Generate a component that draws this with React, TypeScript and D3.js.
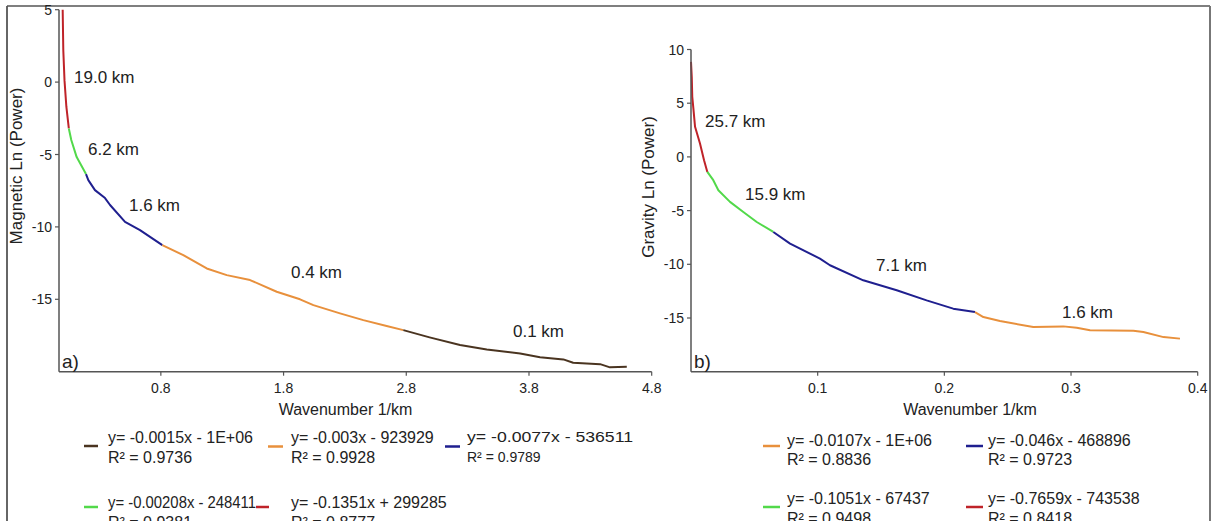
import React from "react";
import * as d3 from "d3";

// ---------- DATA ----------
// Magnetic spectrum (panel a): wavenumber (1/km), ln(power), per fitted segment
const magRedK = [0.0, 0.005, 0.015, 0.03, 0.05];
const magRedP = [5.0, 2.2, 0.1, -1.7, -3.2];
const magGreenK = [0.07, 0.114, 0.19];
const magGreenP = [-4.0, -5.18, -6.35];
const magBlueK = [0.209, 0.263, 0.345, 0.386, 0.508, 0.63, 0.812];
const magBlueP = [-6.77, -7.46, -8.01, -8.49, -9.65, -10.22, -11.26];
const magOrangeK = [0.983, 1.174, 1.337, 1.527, 1.744, 1.934, 2.043, 2.26, 2.45, 2.64, 2.776];
const magOrangeP = [-11.95, -12.87, -13.33, -13.67, -14.48, -15.0, -15.4, -15.97, -16.44, -16.85, -17.13];
const magBrownK = [2.99, 3.238, 3.456, 3.728, 3.89, 4.08, 4.16, 4.38, 4.46, 4.597];
const magBrownP = [-17.63, -18.16, -18.46, -18.74, -19.0, -19.15, -19.38, -19.48, -19.7, -19.66];

// Gravity spectrum (panel b)
const gravRedK = [0.0, 0.0006, 0.001, 0.002, 0.0032, 0.0071, 0.0103, 0.0129];
const gravRedP = [8.85, 7.46, 5.59, 4.35, 2.8, 1.25, -0.31, -1.4];
const gravGreenK = [0.0176, 0.0216, 0.0308, 0.0413, 0.0519, 0.065];
const gravGreenP = [-2.17, -3.1, -4.19, -5.13, -6.06, -6.99];
const gravBlueK = [0.0782, 0.1018, 0.1097, 0.136, 0.1624, 0.186, 0.207, 0.2242];
const gravBlueP = [-8.07, -9.47, -10.09, -11.49, -12.42, -13.36, -14.13, -14.45];
const gravOrangeK = [0.2308, 0.2439, 0.2702, 0.2939, 0.3045, 0.315, 0.3492, 0.3571, 0.373, 0.386];
const gravOrangeP = [-14.91, -15.28, -15.84, -15.78, -15.9, -16.15, -16.18, -16.31, -16.78, -16.92];

// Axis ticks
const magXTicks = [0.8, 1.8, 2.8, 3.8, 4.8];
const magYTicks = [5, 0, -5, -10, -15];
const gravXTicks = [0.1, 0.2, 0.3, 0.4];
const gravYTicks = [10, 5, 0, -5, -10, -15];

// Depth labels
const magDepthLabels = ["19.0 km", "6.2 km", "1.6 km", "0.4 km", "0.1 km"];
const gravDepthLabels = ["25.7 km", "15.9 km", "7.1 km", "1.6 km"];

// Legend entries
const magLegendEq = ["y= -0.0015x - 1E+06", "y= -0.003x - 923929", "y= -0.0077x - 536511", "y= -0.00208x - 248411", "y= -0.1351x + 299285"];
const magLegendR2 = ["R² = 0.9736", "R² = 0.9928", "R² = 0.9789", "R² = 0.9381", "R² = 0.8777"];
const gravLegendEq = ["y= -0.0107x - 1E+06", "y= -0.046x - 468896", "y= -0.1051x - 67437", "y= -0.7659x - 743538"];
const gravLegendR2 = ["R² = 0.8836", "R² = 0.9723", "R² = 0.9498", "R² = 0.8418"];

// ---------- STYLE ----------
const C = {
  red: "#bf2329",
  green: "#52d94a",
  blue: "#1f1f8f",
  orange: "#e8903c",
  brown: "#4a3420",
  axis: "#555",
  text: "#222",
};
const FONT = "'Liberation Sans', Arial, Helvetica, sans-serif";

type Seg = { k: number[]; p: number[]; color: string };

const magSegs: Seg[] = [
  { k: magRedK, p: magRedP, color: C.red },
  { k: magGreenK, p: magGreenP, color: C.green },
  { k: magBlueK, p: magBlueP, color: C.blue },
  { k: magOrangeK, p: magOrangeP, color: C.orange },
  { k: magBrownK, p: magBrownP, color: C.brown },
];
const gravSegs: Seg[] = [
  { k: gravRedK, p: gravRedP, color: C.red },
  { k: gravGreenK, p: gravGreenP, color: C.green },
  { k: gravBlueK, p: gravBlueP, color: C.blue },
  { k: gravOrangeK, p: gravOrangeP, color: C.orange },
];

function Panel(props: {
  segs: Seg[];
  x: d3.ScaleLinear<number, number>;
  y: d3.ScaleLinear<number, number>;
  xTicks: number[];
  yTicks: number[];
  xFmt: (v: number) => string;
  title: string;
  titleX: number;
  titleY: number;
  tag: string;
  labels: string[];
  labelPos: [number, number][];
}) {
  const { segs, x, y, xTicks, yTicks, xFmt } = props;
  const [x0, x1] = x.range();
  const [yb, yt] = y.range();
  const line = d3
    .line<[number, number]>()
    .x((d) => x(d[0]))
    .y((d) => y(d[1]))
    .curve(d3.curveLinear);
  const paths = segs.map((s, i) => {
    const pts: [number, number][] = s.k.map((k, j) => [k, s.p[j]]);
    if (i > 0) {
      const prev = segs[i - 1];
      pts.unshift([prev.k[prev.k.length - 1], prev.p[prev.p.length - 1]]);
    }
    return { d: line(pts) || "", color: s.color };
  });
  return (
    <g>
      {paths.map((p, i) => (
        <path key={i} d={p.d} fill="none" stroke={p.color} strokeWidth={2} strokeLinejoin="round" />
      ))}
      <line x1={x0} x2={x0} y1={yt} y2={yb} stroke={C.axis} strokeWidth={1.5} />
      <line x1={x0} x2={x1} y1={yb} y2={yb} stroke={C.axis} strokeWidth={1.5} />
      {yTicks.map((t) => (
        <g key={"y" + t}>
          <line x1={x0 - 4} x2={x0} y1={y(t)} y2={y(t)} stroke={C.axis} strokeWidth={1.2} />
          <text x={x0 - 7} y={y(t)} dy="0.36em" textAnchor="end" fontSize={14} fontFamily={FONT} fill={C.text}>
            {t}
          </text>
        </g>
      ))}
      {xTicks.map((t) => (
        <g key={"x" + t}>
          <line x1={x(t)} x2={x(t)} y1={yb} y2={yb + 4} stroke={C.axis} strokeWidth={1.2} />
          <text x={x(t)} y={393} textAnchor="middle" fontSize={14} fontFamily={FONT} fill={C.text}>
            {xFmt(t)}
          </text>
        </g>
      ))}
      <text
        transform={`translate(${props.titleX},${props.titleY}) rotate(-90)`}
        textAnchor="middle"
        dy="0.35em"
        fontSize={17}
        fontFamily={FONT}
        fill={C.text}
      >
        {props.title}
      </text>
      <text x={x0 + 3} y={368} fontSize={19} fontFamily={FONT} fill={C.text}>
        {props.tag}
      </text>
      {props.labels.map((l, i) => (
        <text key={l + i} x={props.labelPos[i][0]} y={props.labelPos[i][1]} fontSize={17} fontFamily={FONT} fill={C.text}>
          {l}
        </text>
      ))}
    </g>
  );
}

function LegendItem(props: {
  sx: number;
  sw: number;
  sy: number;
  tx: number;
  ty: number;
  color: string;
  eq: string;
  r2: string;
  eqLen?: number;
  small?: boolean;
}) {
  const fs = props.small ? 14 : 16;
  return (
    <g>
      <line x1={props.sx} x2={props.sx + props.sw} y1={props.sy} y2={props.sy} stroke={props.color} strokeWidth={2.5} />
      <text
        x={props.tx}
        y={props.ty}
        fontSize={fs}
        fontFamily={FONT}
        fill={C.text}
        {...(props.eqLen ? { textLength: props.eqLen, lengthAdjust: "spacingAndGlyphs" } : {})}
      >
        {props.eq}
      </text>
      <text x={props.tx} y={props.ty + 19.5} fontSize={fs} fontFamily={FONT} fill={C.text}>
        {props.r2}
      </text>
    </g>
  );
}

export default function App() {
  const W = 1214;
  const H = 521;
  const xM = d3.scaleLinear().domain([-0.03, 4.8]).range([59, 651.7]);
  const yM = d3.scaleLinear().domain([-20, 5]).range([371.7, 9.7]);
  const xG = d3.scaleLinear().domain([0, 0.4]).range([691, 1197.7]);
  const yG = d3.scaleLinear().domain([-20, 10]).range([371.7, 49.5]);

  const magLabelPos: [number, number][] = [
    [74, 83],
    [88, 155],
    [129, 211],
    [291, 278],
    [513, 337],
  ];
  const gravLabelPos: [number, number][] = [
    [705, 127],
    [745, 200],
    [876, 271],
    [1062, 318],
  ];

  return (
    <svg
      width={W}
      height={H}
      style={{ position: "absolute", left: 0, top: 0, background: "#fff" }}
      xmlns="http://www.w3.org/2000/svg"
    >
      <rect x={0} y={0} width={W} height={H} fill="#fff" />
      <line x1={7} x2={7} y1={6} y2={H} stroke="#333" strokeWidth={1.5} />
      <line x1={7} x2={1210} y1={6} y2={6} stroke="#555" strokeWidth={1.5} />
      <line x1={1210} x2={1210} y1={6} y2={H} stroke="#777" strokeWidth={2} />

      <Panel
        segs={magSegs}
        x={xM}
        y={yM}
        xTicks={magXTicks}
        yTicks={magYTicks}
        xFmt={(v) => v.toFixed(1)}
        title="Magnetic Ln (Power)"
        titleX={16}
        titleY={166}
        tag="a)"
        labels={magDepthLabels}
        labelPos={magLabelPos}
      />
      <Panel
        segs={gravSegs}
        x={xG}
        y={yG}
        xTicks={gravXTicks}
        yTicks={gravYTicks}
        xFmt={(v) => String(+v.toFixed(1))}
        title="Gravity Ln (Power)"
        titleX={648}
        titleY={187}
        tag="b)"
        labels={gravDepthLabels}
        labelPos={gravLabelPos}
      />

      <text x={345.5} y={415} textAnchor="middle" fontSize={16} fontFamily={FONT} fill={C.text}>
        Wavenumber 1/km
      </text>
      <text x={970} y={415} textAnchor="middle" fontSize={16} fontFamily={FONT} fill={C.text}>
        Wavenumber 1/km
      </text>

      {/* legend a */}
      <LegendItem sx={84} sw={14} sy={446} tx={108} ty={443} color={C.brown} eq={magLegendEq[0]} r2={magLegendR2[0]} />
      <LegendItem sx={268} sw={15} sy={446.5} tx={291} ty={443} color={C.orange} eq={magLegendEq[1]} r2={magLegendR2[1]} />
      <LegendItem sx={445} sw={15} sy={446.5} tx={467} ty={442} color={C.blue} eq={magLegendEq[2]} r2={magLegendR2[2]} small eqLen={166} />
      <LegendItem sx={84} sw={14} sy={507} tx={108} ty={508} color={C.green} eq={magLegendEq[3]} r2={magLegendR2[3]} eqLen={148} />
      <LegendItem sx={256} sw={13} sy={507} tx={291} ty={508} color={C.red} eq={magLegendEq[4]} r2={magLegendR2[4]} />

      {/* legend b */}
      <LegendItem sx={763} sw={17} sy={446} tx={787} ty={445.5} color={C.orange} eq={gravLegendEq[0]} r2={gravLegendR2[0]} />
      <LegendItem sx={966} sw={17} sy={446} tx={988} ty={445.5} color={C.blue} eq={gravLegendEq[1]} r2={gravLegendR2[1]} />
      <LegendItem sx={763} sw={17} sy={507} tx={787} ty={504} color={C.green} eq={gravLegendEq[2]} r2={gravLegendR2[2]} />
      <LegendItem sx={966} sw={17} sy={507} tx={988} ty={504} color={C.red} eq={gravLegendEq[3]} r2={gravLegendR2[3]} />
    </svg>
  );
}
